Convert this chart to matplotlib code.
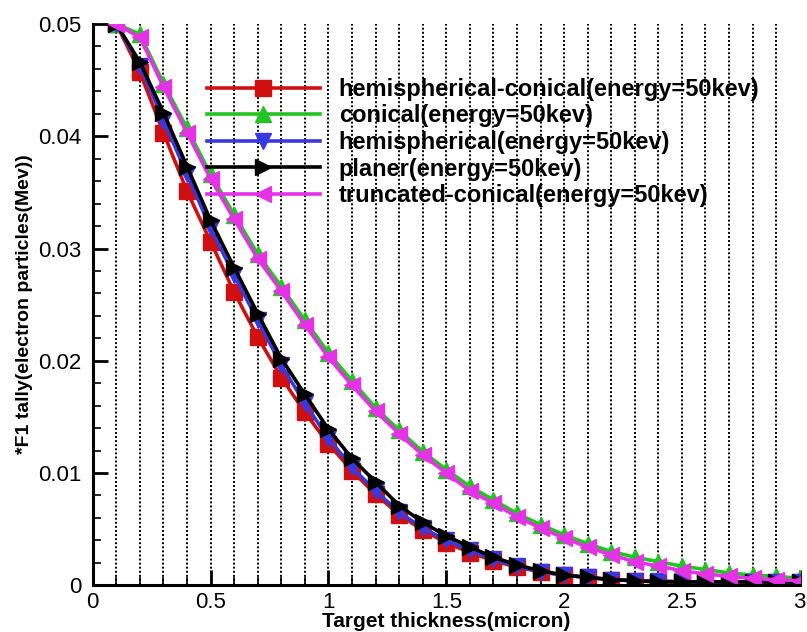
import numpy as np
import matplotlib
matplotlib.use("Agg")
import matplotlib.pyplot as plt
from matplotlib.ticker import MultipleLocator

plt.rcParams['font.family'] = ['Liberation Sans', 'DejaVu Sans']

# thickness (micron), one point every 0.1 from 0.1 to 3.0
thickness = [round(0.1 * i, 1) for i in range(1, 31)]

hemi_conical = [0.0500, 0.0457, 0.0403, 0.0351, 0.0306, 0.0261, 0.0221, 0.0185, 0.0154, 0.0126,
                0.0102, 0.0081, 0.0063, 0.0049, 0.0038, 0.0029, 0.0022, 0.0016, 0.0012, 0.0009,
                0.0007, 0.0005, 0.0004, 0.0003, 0.0003, 0.0003, 0.0003, 0.0003, 0.0003, 0.0003]
conical = [0.0500, 0.0491, 0.0447, 0.0407, 0.0366, 0.0330, 0.0295, 0.0266, 0.0236, 0.0207,
           0.0182, 0.0158, 0.0138, 0.0119, 0.0103, 0.0088, 0.0076, 0.0064, 0.0054, 0.0045,
           0.0037, 0.0030, 0.0025, 0.0021, 0.0017, 0.0014, 0.0011, 0.0009, 0.0008, 0.0006]
hemispherical = [0.0500, 0.0463, 0.0414, 0.0366, 0.0318, 0.0276, 0.0236, 0.0196, 0.0162, 0.0131,
                 0.0105, 0.0084, 0.0065, 0.0051, 0.0040, 0.0031, 0.0023, 0.0017, 0.0012, 0.0009,
                 0.0007, 0.0005, 0.0004, 0.0004, 0.0003, 0.0003, 0.0003, 0.0003, 0.0003, 0.0003]
planer = [0.0500, 0.0466, 0.0421, 0.0373, 0.0325, 0.0283, 0.0242, 0.0202, 0.0170, 0.0139,
          0.0113, 0.0092, 0.0071, 0.0056, 0.0044, 0.0034, 0.0025, 0.0018, 0.0013, 0.0009,
          0.0007, 0.0005, 0.0004, 0.0003, 0.0003, 0.0003, 0.0003, 0.0003, 0.0003, 0.0003]
truncated = [0.0500, 0.0488, 0.0444, 0.0403, 0.0362, 0.0326, 0.0291, 0.0262, 0.0232, 0.0203,
             0.0178, 0.0155, 0.0135, 0.0116, 0.0100, 0.0084, 0.0073, 0.0061, 0.0051, 0.0042,
             0.0034, 0.0027, 0.0021, 0.0017, 0.0013, 0.0010, 0.0008, 0.0006, 0.0005, 0.0004]

labels = ["hemispherical-conical(energy=50kev)",
          "conical(energy=50kev)",
          "hemispherical(energy=50kev)",
          "planer(energy=50kev)",
          "truncated-conical(energy=50kev)"]

xticks = [0, 0.5, 1, 1.5, 2, 2.5, 3]
xtick_labels = ["0", "0.5", "1", "1.5", "2", "2.5", "3"]
yticks = [0, 0.01, 0.02, 0.03, 0.04, 0.05]
ytick_labels = ["0", "0.01", "0.02", "0.03", "0.04", "0.05"]

series = [
    (hemi_conical, "#d01010", "s"),
    (conical, "#22c422", "^"),
    (hemispherical, "#3838e0", "v"),
    (planer, "black", ">"),
    (truncated, "#e632e6", "<"),
]

fig = plt.figure(figsize=(8.07, 6.32), dpi=100)
ax = fig.add_axes([0.115, 0.074, 0.876, 0.888])

for vals, col, mk in series:
    ax.plot(thickness, vals, color=col, lw=2.6, marker=mk, markersize=11,
            markeredgecolor=col, markerfacecolor=col)

ax.set_xlim(0, 3)
ax.set_ylim(0, 0.05)

# vertical dotted grid every 0.1
for gx in np.arange(0.1, 3.0, 0.1):
    ax.axvline(gx, color="black", lw=1.4, ls=(0, (1, 1.1)), zorder=0)

ax.set_xticks(xticks)
ax.set_xticklabels(xtick_labels)
ax.set_yticks(yticks)
ax.set_yticklabels(ytick_labels)
ax.xaxis.set_minor_locator(MultipleLocator(0.1))
ax.yaxis.set_minor_locator(MultipleLocator(0.002))
ax.tick_params(which="major", direction="in", length=11, width=2, labelsize=16, pad=5)
ax.tick_params(which="minor", direction="in", length=6, width=1.2)
ax.tick_params(axis="y", pad=8)

for s in ["top", "right"]:
    ax.spines[s].set_visible(False)
for s in ["left", "bottom"]:
    ax.spines[s].set_linewidth(2.2)

narrow = ["Liberation Sans Narrow", "Liberation Sans"]
ax.set_xlabel("Target thickness(micron)", family=narrow,
              fontweight="bold", fontsize=15, labelpad=-1)
ax.set_ylabel("*F1 tally(electron particles(Mev))", family=narrow,
              fontweight="bold", fontsize=14, labelpad=4)

leg = ax.legend(labels, loc="upper left", bbox_to_anchor=(0.161, 0.904), frameon=False,
                prop={"weight": "bold", "size": 17}, handlelength=4.8, handletextpad=0.8,
                labelspacing=0.15, borderpad=0, borderaxespad=0)

fig.savefig("out.png", dpi=100)
